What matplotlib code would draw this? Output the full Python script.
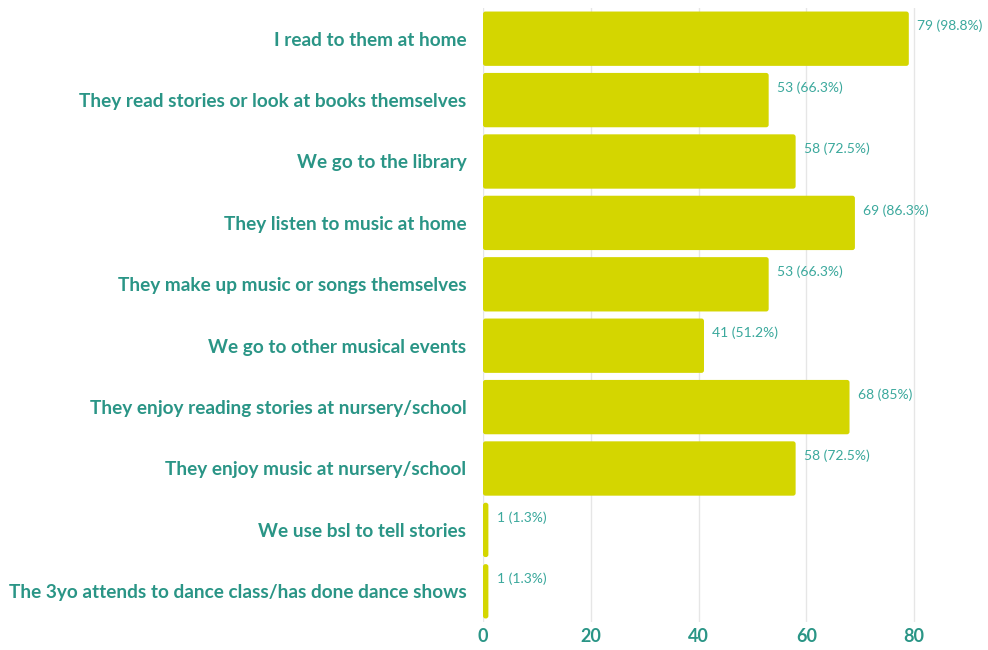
import matplotlib
matplotlib.use("Agg")
import matplotlib.pyplot as plt
from matplotlib.patches import FancyBboxPatch

categories = [
    "I read to them at home",
    "They read stories or look at books themselves",
    "We go to the library",
    "They listen to music at home",
    "They make up music or songs themselves",
    "We go to other musical events",
    "They enjoy reading stories at nursery/school",
    "They enjoy music at nursery/school",
    "We use bsl to tell stories",
    "The 3yo attends to dance class/has done dance shows",
]
counts = [79, 53, 58, 69, 53, 41, 68, 58, 1, 1]
percent_labels = ["98.8%", "66.3%", "72.5%", "86.3%", "66.3%", "51.2%", "85%", "72.5%", "1.3%", "1.3%"]
xticks = [0, 20, 40, 60, 80]

BAR = "#d4d600"
TEAL = "#2a9586"
VALUE_TEAL = "#3aa89c"
GRID = "#e6e6e6"

plt.rcParams["font.family"] = ["Lato", "DejaVu Sans"]

W, H, DPI = 988, 650, 100
fig = plt.figure(figsize=(W / DPI, H / DPI), dpi=DPI)
left, right = 483 / W, 988 / W
bottom, top = 1 - 622 / H, 1 - 8 / H
ax = fig.add_axes([left, bottom, right - left, top - bottom])

n = len(categories)
ypos = list(range(n))
ax.set_ylim(n - 0.5, -0.5)
ax.set_xlim(0, 505 / 5.39)

bar_h = 0.885
bars = ax.barh(ypos, counts, height=bar_h, color=BAR, zorder=2)

# swap the plain rectangles for rounded ones of identical extent
fig.canvas.draw()
px_x = ax.transData.transform((1, 0))[0] - ax.transData.transform((0, 0))[0]
px_y = abs(ax.transData.transform((0, 1))[1] - ax.transData.transform((0, 0))[1])
radius_px = 2.5
for rect in bars.patches:
    x0, y0 = rect.get_x(), rect.get_y()
    w, h = rect.get_width(), rect.get_height()
    rect.set_visible(False)
    r = min(radius_px, w * px_x / 2) / px_x
    patch = FancyBboxPatch(
        (x0, y0), w, h,
        boxstyle=f"round,pad=0,rounding_size={r}",
        mutation_aspect=px_x / px_y,
        facecolor=BAR, edgecolor="none", zorder=2,
    )
    ax.add_patch(patch)

for y, c, p in zip(ypos, counts, percent_labels):
    ax.annotate(f"{c} ({p})", xy=(c, y - bar_h / 2), xytext=(6, -10.5),
                textcoords="offset points", ha="left", va="center",
                fontsize=10, color=VALUE_TEAL, zorder=3)

ax.set_yticks(ypos)
ax.set_yticklabels(categories, fontsize=13.7, fontweight="bold", color=TEAL)
ax.set_xticks(xticks)
ax.set_xticklabels([str(t) for t in xticks], fontsize=13, fontweight="bold", color=TEAL)
ax.tick_params(axis="both", length=0)
ax.tick_params(axis="y", pad=12)
ax.tick_params(axis="x", pad=4)
ax.grid(axis="x", color=GRID, linewidth=1, zorder=0)
ax.set_axisbelow(True)
for s in ax.spines.values():
    s.set_visible(False)

fig.savefig("out.png", dpi=DPI, facecolor="white")
